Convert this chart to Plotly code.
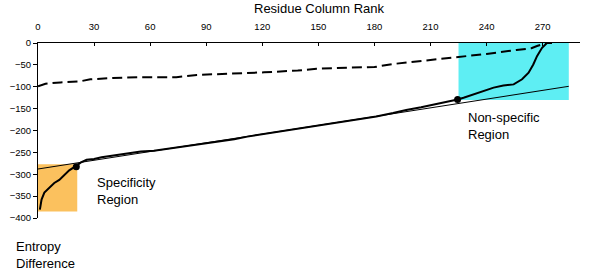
import plotly.graph_objects as go

# ---- data ----
solid_rank = [1, 1.9, 3.4, 6, 8.7, 11.4, 14, 16.7, 20, 23, 26, 30, 34, 42, 50, 55, 62, 70, 80, 90,
              98, 105, 112, 118, 124, 132, 140, 150, 160, 170, 181, 190, 197, 205, 212, 218, 224.5,
              227.7, 233, 238.4, 243.8, 249, 254.5, 259, 262.5, 265, 267, 269.7, 272.3, 275]
solid_val = [-381, -358, -342, -331, -320, -313, -301, -291, -282, -273, -267, -265, -261, -256, -251, -248, -246, -241, -236, -229,
             -224, -220, -214, -210, -206, -201, -196, -190, -183, -176, -168, -160, -153, -147, -141, -135, -129,
             -125, -117.5, -110, -102, -97, -94.6, -83, -68, -49, -30, -11, 0, 0]

dash_rank = [0, 4, 12, 22, 28, 40, 55, 74, 85, 99, 121, 139, 149, 160, 172, 180, 190, 203, 215, 225,
             240, 256, 264, 267, 270, 272]
dash_val = [-99, -93, -90, -88, -83, -80, -78, -78, -73, -71, -67, -63, -59, -57, -55, -55, -48, -42, -38, -33,
            -25, -16, -12, -7, -2, 0]

reg_rank = [0, 284]
reg_val = [-288, -99]

dot_rank = [20.5, 224.5]
dot_val = [-283, -129]

spec_region = dict(x0=0, x1=21, y0=-385, y1=-277)
nonspec_region = dict(x0=225, x1=284, y0=-130, y1=0)

x_ticks = [0, 30, 60, 90, 120, 150, 180, 210, 240, 270]
y_ticks = [0, -50, -100, -150, -200, -250, -300, -350, -400]

FONT = "Liberation Sans, Arial, Helvetica, sans-serif"

fig = go.Figure()
fig.add_trace(go.Scatter(x=reg_rank, y=reg_val, mode="lines",
                         line=dict(color="black", width=1), hoverinfo="skip"))
fig.add_trace(go.Scatter(x=dash_rank, y=dash_val, mode="lines",
                         line=dict(color="black", width=2, dash="10px,5px")))
fig.add_trace(go.Scatter(x=solid_rank, y=solid_val, mode="lines",
                         line=dict(color="black", width=2)))
fig.add_trace(go.Scatter(x=dot_rank, y=dot_val, mode="markers",
                         marker=dict(color="black", size=7)))

fig.add_shape(type="rect", layer="below", line_width=0, fillcolor="#FBC15E", **spec_region)
fig.add_shape(type="rect", layer="below", line_width=0, fillcolor="#5EEEF3", **nonspec_region)

fig.add_annotation(x=30.3, y=-337.6, xref="x", yref="y", text="Specificity<br>Region",
                   showarrow=False, xanchor="left", yanchor="middle", align="left",
                   font=dict(family=FONT, size=13, color="black"))
fig.add_annotation(x=229, y=-190, xref="x", yref="y", text="Non-specific<br>Region",
                   showarrow=False, xanchor="left", yanchor="middle", align="left",
                   font=dict(family=FONT, size=13, color="black"))
fig.add_annotation(x=0.52, y=1.2, xref="paper", yref="paper", text="Residue Column Rank",
                   showarrow=False, xanchor="center", yanchor="middle",
                   font=dict(family=FONT, size=13, color="black"))
fig.add_annotation(x=-0.045, y=-0.21, xref="paper", yref="paper", text="Entropy<br>Difference",
                   showarrow=False, xanchor="left", yanchor="middle", align="left",
                   font=dict(family=FONT, size=13, color="black"))

fig.update_layout(
    width=600, height=271,
    margin=dict(l=38, r=20, t=43, b=53),
    paper_bgcolor="white", plot_bgcolor="white",
    showlegend=False, hovermode=False,
    font=dict(family=FONT, size=9.5, color="black"),
    xaxis=dict(range=[0, 290], side="top", tickvals=x_ticks, ticks="inside", ticklen=3,
               showline=True, linecolor="black", linewidth=1, showgrid=False, zeroline=False,
               tickcolor="black", tickfont=dict(size=9.5), automargin=False,
               ticklabelstandoff=8),
    yaxis=dict(range=[-400, 0], tickvals=y_ticks, ticks="outside", ticklen=4,
               showline=True, linecolor="black", linewidth=1, showgrid=False, zeroline=False,
               tickcolor="black", tickfont=dict(size=9.5), automargin=False),
)

# remove the page's default body margin so the figure sits at the window origin
fig.write_html("out.html", config={"displayModeBar": False},
               post_script="document.body.style.margin='0';")
